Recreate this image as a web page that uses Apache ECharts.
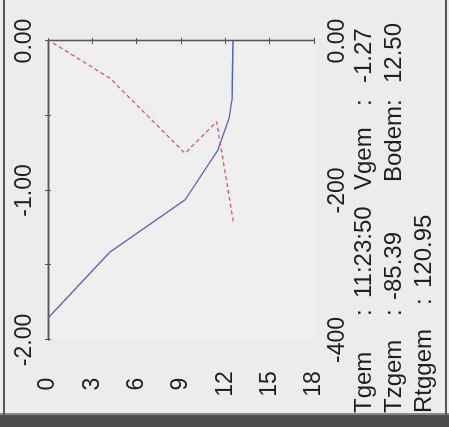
<!DOCTYPE html>
<html>
<head>
<meta charset="utf-8">
<script src="https://cdn.jsdelivr.net/npm/echarts@6/dist/echarts.min.js"></script>
<style>
  html, body { margin: 0; padding: 0; background: #ececec; overflow: hidden; }
  /* the scan is turned a quarter to the left: draw upright, then rotate */
  #chart {
    position: absolute; left: 0; top: 0;
    width: 427px; height: 449px;
    transform-origin: 0 0;
    transform: translate(0, 427px) rotate(-90deg);
  }
</style>
</head>
<body>
<div id="chart"></div>
<script>
// velocity profile (top axis, -2.00 .. 0.00)
var velDepth = [0, 4.2, 9.27, 11.5, 12.25, 12.45, 12.52]
var velValue = [-1.853, -1.411, -1.063, -0.729, -0.515, -0.395, 0]
// second profile (bottom axis, -400 .. 0)
var dirDepth = [0.34, 4.2, 9.27, 11.41, 12.54]
var dirValue = [-2.7, -49.9, -150.2, -107.9, -241.7]
// depth axis
var depthMin = 0
var depthMax = 18
var depthStep = 3

var font = 'Liberation Sans'
var ink = '#1e1e1e'
var axisCol = '#555'

function zip(xs, ys) {
  return xs.map(function(x, i) { return [x, ys[i]] })
}

function txt(str, x, y) {
  return {
    type: 'text', x: x, y: y, silent: true,
    style: { text: str, fontFamily: font, fontSize: 24, fill: ink, verticalAlign: 'middle' }
  }
}

function axisLabel(extra) {
  var base = { fontSize: 23, fontFamily: font, color: ink, margin: 12 }
  for (var k in extra) base[k] = extra[k]
  return base
}

var line = { show: true, lineStyle: { color: axisCol, width: 1.3 } }
var tick = { show: true, length: 3, lineStyle: { color: axisCol } }

var chart = echarts.init(document.getElementById('chart'))
chart.setOption({
  animation: false,
  backgroundColor: '#ececec',
  textStyle: { fontFamily: font },
  grid: { left: 87, right: 41, top: 48, bottom: 135, show: true, backgroundColor: '#efefef', borderWidth: 0 },
  xAxis: [
    {
      type: 'value', position: 'top', min: -2, max: 0, interval: 0.5,
      axisLine: line, axisTick: tick, splitLine: { show: false },
      axisLabel: axisLabel({
        formatter: function(v) { return v % 1 === 0 ? v.toFixed(2) : '' }
      })
    },
    {
      type: 'value', position: 'bottom', min: -400, max: 0, interval: 100,
      axisLine: line, axisTick: tick, splitLine: { show: false },
      axisLabel: axisLabel({
        formatter: function(v) {
          if (v === 0) return '0.00'
          return v % 200 === 0 ? String(v) : ''
        }
      })
    }
  ],
  yAxis: [
    {
      type: 'value', position: 'left', inverse: true,
      min: depthMin, max: depthMax, interval: depthStep,
      axisLine: line, axisTick: tick, splitLine: { show: false },
      axisLabel: axisLabel({ margin: 44, align: 'center' })
    },
    {
      type: 'value', position: 'right', inverse: true,
      min: depthMin, max: depthMax, interval: depthStep,
      axisLine: line, axisTick: tick, splitLine: { show: false },
      axisLabel: { show: false }
    }
  ],
  series: [
    {
      type: 'line', xAxisIndex: 0, yAxisIndex: 0,
      data: zip(velValue, velDepth),
      symbol: 'none', smooth: false,
      lineStyle: { color: '#5462b8', width: 1.3 }
    },
    {
      type: 'line', xAxisIndex: 1, yAxisIndex: 0,
      data: zip(dirValue, dirDepth),
      symbol: 'none', smooth: false,
      lineStyle: { color: '#e65468', width: 1.3, type: [4, 3] }
    }
  ],
  graphic: [
    // frame of the scanned page
    { type: 'rect', shape: { x: 0, y: 0, width: 12, height: 449 }, style: { fill: '#4c4c4c' }, silent: true },
    { type: 'rect', shape: { x: 12, y: 0, width: 2, height: 449 }, style: { fill: '#8a8a8a' }, silent: true },
    { type: 'rect', shape: { x: 12, y: 3, width: 415, height: 2 }, style: { fill: '#555' }, silent: true },
    { type: 'rect', shape: { x: 12, y: 445, width: 415, height: 2 }, style: { fill: '#555' }, silent: true },
    // summary lines
    txt('Tgem', 14, 364), txt(':', 111, 364), txt('11:23:50', 129, 364),
    txt('Vgem', 237, 364), txt(':', 321, 364), txt('-1.27', 344, 364),
    txt('Tzgem', 14, 394), txt(':', 111, 394), txt('-85.39', 127, 394),
    txt('Bodem', 245, 394), txt(':', 321, 394), txt('12.50', 344, 394),
    txt('Rtggem', 14, 424), txt(':', 122, 424), txt('120.95', 139, 424)
  ]
})
</script>
</body>
</html>
